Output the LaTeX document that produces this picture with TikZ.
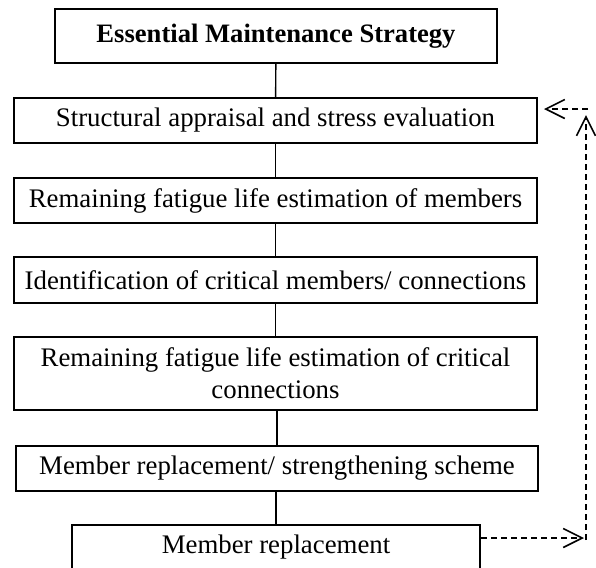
\documentclass[tikz,border=0pt]{standalone}
\usepackage{fontspec}
\setmainfont{Liberation Serif}
\usetikzlibrary{arrows.meta}

\begin{document}
\begin{tikzpicture}[x=0.5pt, y=-0.5pt,
  stage/.style={draw, line width=1pt, minimum width=261.5pt, minimum height=22.5pt,
    inner sep=0pt, align=center, font=\fontsize{13.4}{16}\selectfont},
  headbox/.style={stage, minimum width=221pt, minimum height=27pt,
    font=\fontsize{13.3}{16}\selectfont\bfseries},
  link/.style={line width=0.7pt},
  feedback/.style={line width=0.7pt, dash pattern=on 3pt off 2pt,
    -{Straight Barb[length=9.5pt, width=9.5pt, line width=0.8pt]}}]
\useasboundingbox (0,0) rectangle (596,568);

\node[headbox] (strategy) at (276, 36) {Essential Maintenance Strategy};
\node[stage] (appraisal) at (275.5, 120.5) {Structural appraisal and stress evaluation};
\node[stage] (lifemembers) at (275.5, 200.5) {Remaining fatigue life estimation of members};
\node[stage, minimum height=23pt] (critical) at (275.5, 280) {Identification of critical members/ connections};
\node[stage, minimum height=36.5pt] (lifeconn) at (275.5, 373.5) {Remaining fatigue life estimation of critical\\connections};
\node[stage, minimum width=261pt] (scheme) at (277, 468.5) {Member replacement/ strengthening scheme};
\node[stage, minimum width=204pt] (replace) at (276, 547.5) {Member replacement};

\draw[link] (strategy) -- (appraisal);
\draw[link] (appraisal) -- (lifemembers);
\draw[link] (lifemembers) -- (critical);
\draw[link] (critical) -- (lifeconn);
\draw[link] (lifeconn.south -| scheme.north) -- (scheme);
\draw[link] (scheme.south -| replace.north) -- (replace);

\coordinate (fbturn) at (584, 538);
\coordinate (fbbase) at (586, 540);
\coordinate (fbtop) at (586, 115);
\coordinate (fbback) at (588, 109);

\draw[feedback] (replace.east |- fbturn) -- (fbturn);
\draw[feedback] (fbbase) -- (fbtop);
\draw[feedback] (fbback) -- ([xshift=3pt]fbback -| appraisal.east);
\end{tikzpicture}
\end{document}
